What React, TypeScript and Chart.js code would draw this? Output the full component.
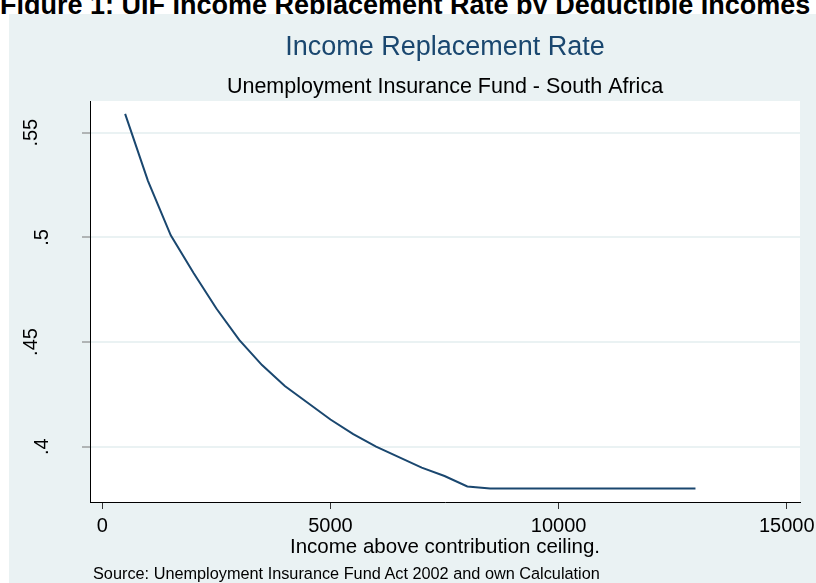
import React, { useEffect, useRef } from "react";
import { Chart, registerables } from "chart.js";

Chart.register(...registerables);

// ---- data ----
const incomeAboveCeiling = [
  500, 1000, 1500, 2000, 2500, 3000, 3500, 4000, 4500, 5000, 5500, 6000, 6500,
  7000, 7500, 8000, 8500, 9000, 9500, 10000, 10500, 11000, 11500, 12000, 12500, 13000,
];
const replacementRate = [
  0.559, 0.527, 0.501, 0.483, 0.466, 0.451, 0.439, 0.429, 0.421, 0.413, 0.406, 0.4, 0.395,
  0.39, 0.386, 0.381, 0.38, 0.38, 0.38, 0.38, 0.38, 0.38, 0.38, 0.38, 0.38, 0.38,
];
const xTicks = [0, 5000, 10000, 15000];
const xTickLabels = ["0", "5000", "10000", "15000"];
const yTicks = [0.4, 0.45, 0.5, 0.55];
const yTickLabels = [".4", ".45", ".5", ".55"];

const figureCaption = "Figure 1: UIF Income Replacement Rate by Deductible Incomes";
const chartTitle = "Income Replacement Rate";
const chartSubtitle = "Unemployment Insurance Fund - South Africa";
const xAxisTitle = "Income above contribution ceiling.";
const sourceNote = "Source: Unemployment Insurance Fund Act 2002 and own Calculation";

const FONT = "'Liberation Sans', Arial, Helvetica, sans-serif";
const BG = "#EAF2F3";
const NAVY = "#1A476F";

const backgroundPlugin = {
  id: "stataBackground",
  beforeDraw(chart: any) {
    const { ctx, chartArea, width, height } = chart;
    ctx.save();
    ctx.fillStyle = BG;
    ctx.fillRect(0, 0, width, height);
    ctx.fillStyle = "#FFFFFF";
    ctx.fillRect(
      chartArea.left,
      chartArea.top,
      chartArea.right - chartArea.left,
      chartArea.bottom - chartArea.top
    );
    ctx.restore();
  },
};

const yLabelPlugin = {
  id: "rotatedYLabels",
  afterDraw(chart: any) {
    const s = chart.scales.y;
    const ctx = chart.ctx;
    ctx.save();
    ctx.font = `20px ${FONT}`;
    ctx.fillStyle = "#000000";
    ctx.textAlign = "center";
    ctx.textBaseline = "alphabetic";
    s.ticks.forEach((t: any) => {
      const idx = yTicks.indexOf(t.value);
      const label = idx >= 0 ? yTickLabels[idx] : String(t.value);
      const y = s.getPixelForValue(t.value);
      const w = ctx.measureText(label).width;
      const bx = s.right - 25 - w;
      ctx.save();
      ctx.translate(bx, y);
      ctx.rotate(-Math.PI / 2);
      ctx.fillText(label, 0, 0);
      ctx.restore();
    });
    ctx.restore();
  },
};

export default function App() {
  const canvasRef = useRef<HTMLCanvasElement | null>(null);

  useEffect(() => {
    if (!canvasRef.current) return;
    const chart = new Chart(canvasRef.current, {
      type: "line",
      data: {
        datasets: [
          {
            data: incomeAboveCeiling.map((x, i) => ({ x, y: replacementRate[i] })),
            borderColor: NAVY,
            borderWidth: 2,
            pointRadius: 0,
            tension: 0,
            fill: false,
          },
        ],
      },
      options: {
        responsive: false,
        animation: false,
        layout: { padding: { left: 0, right: 16, top: 0, bottom: 0 } },
        plugins: {
          legend: { display: false },
          tooltip: { enabled: false },
          title: {
            display: true,
            text: chartTitle,
            fullSize: false,
            color: NAVY,
            font: { family: FONT, size: 27, weight: "normal" },
            padding: { top: 17, bottom: 0 },
          },
          subtitle: {
            display: true,
            text: chartSubtitle,
            fullSize: false,
            color: "#000000",
            font: { family: FONT, size: 21.5, weight: "normal" },
            padding: { top: 11, bottom: 0.8 },
          },
        },
        scales: {
          x: {
            type: "linear",
            min: -270,
            max: 15291,
            afterBuildTicks: (s: any) => {
              s.ticks = xTicks.map((v) => ({ value: v }));
            },
            afterFit: (s: any) => {
              s.height = 81;
              s.paddingLeft = 0;
              s.paddingRight = 0;
            },
            grid: {
              drawOnChartArea: false,
              drawTicks: true,
              tickLength: 7,
              tickColor: "#333333",
              tickWidth: 1,
            },
            border: { display: true, color: "#000000", width: 1 },
            ticks: {
              autoSkip: false,
              maxRotation: 0,
              minRotation: 0,
              padding: 5,
              color: "#000000",
              font: { family: FONT, size: 20 },
              callback: (v: any) => {
                const idx = xTicks.indexOf(Number(v));
                return idx >= 0 ? xTickLabels[idx] : String(v);
              },
            },
            title: {
              display: true,
              text: xAxisTitle,
              color: "#000000",
              font: { family: FONT, size: 20.5 },
              padding: { top: 0, bottom: 23 },
            },
          },
          y: {
            type: "linear",
            min: 0.37358,
            max: 0.56514,
            afterBuildTicks: (s: any) => {
              s.ticks = yTicks.map((v) => ({ value: v }));
            },
            afterFit: (s: any) => {
              s.width = 81;
              s.paddingTop = 0;
              s.paddingBottom = 0;
            },
            grid: {
              color: BG,
              lineWidth: 2,
              drawTicks: true,
              tickLength: 8,
              tickColor: "#777777",
              tickWidth: 1,
            },
            border: { display: true, color: "#000000", width: 1 },
            ticks: { display: false },
          },
        },
      },
      plugins: [backgroundPlugin, yLabelPlugin],
    } as any);
    return () => chart.destroy();
  }, []);

  return (
    <div style={{ position: "absolute", left: 0, top: 0, width: 816, height: 583, overflow: "hidden", background: "#FFFFFF" }}>
      <div
        style={{
          position: "absolute",
          left: 0,
          top: -8,
          whiteSpace: "nowrap",
          fontFamily: FONT,
          fontWeight: "bold",
          fontSize: 27,
          lineHeight: "27px",
          color: "#000000",
        }}
      >
        {figureCaption}
      </div>
      <canvas
        ref={canvasRef}
        width={807}
        height={569}
        style={{ position: "absolute", left: 9, top: 14, width: 807, height: 569 }}
      />
      <div
        style={{
          position: "absolute",
          left: 93,
          top: 564.5,
          whiteSpace: "nowrap",
          fontFamily: FONT,
          fontSize: 16.3,
          lineHeight: "16px",
          color: "#000000",
        }}
      >
        {sourceNote}
      </div>
    </div>
  );
}
